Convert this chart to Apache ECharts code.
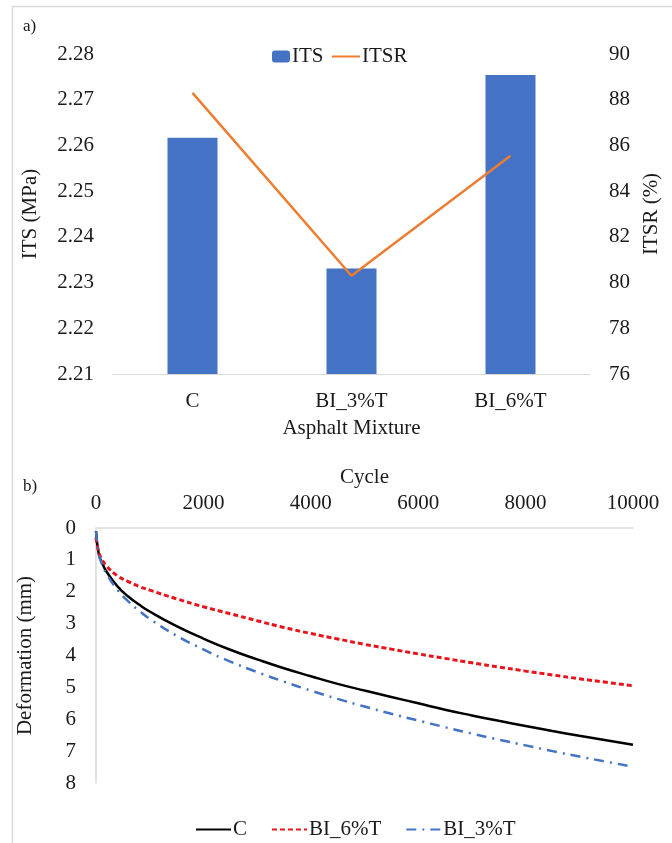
<!DOCTYPE html>
<html>
<head>
<meta charset="utf-8">
<title>ITS / ITSR and deformation</title>
<script src="https://cdn.jsdelivr.net/npm/echarts@6/dist/echarts.min.js"></script>
<style>
    html, body { margin: 0; padding: 0; background: #fff; }
    #chart { width: 672px; height: 843px; }
</style>
</head>
<body>
<div id="chart"></div>
<script>
// ============================================
// 数据
// ============================================

// a) 柱状 + 折线
const mixtures = ['C', 'BI_3%T', 'BI_6%T'];
const itsValues = [2.2617, 2.2331, 2.2754];   // MPa
const itsrValues = [88.3, 80.3, 85.55];       // %

// b) 变形曲线
const cycles = [0, 50, 100, 200, 400, 600, 800, 1000, 1500, 2000, 2500, 3000, 3500,
    4000, 4500, 5000, 5500, 6000, 6500, 7000, 7500, 8000, 8500, 9000, 9500, 10000];
const defC = [0.1, 0.8, 1.04, 1.38, 1.83, 2.15, 2.4, 2.62, 3.08, 3.47, 3.82, 4.12, 4.4,
    4.65, 4.89, 5.1, 5.3, 5.5, 5.7, 5.88, 6.05, 6.21, 6.37, 6.52, 6.66, 6.8];
const def6T = [0.3, 0.75, 0.95, 1.2, 1.5, 1.68, 1.83, 1.95, 2.22, 2.47, 2.69, 2.91, 3.12,
    3.31, 3.48, 3.65, 3.8, 3.95, 4.09, 4.23, 4.36, 4.49, 4.61, 4.73, 4.84, 4.95];
const def3T = [0.1, 0.81, 1.08, 1.45, 1.94, 2.3, 2.59, 2.85, 3.38, 3.81, 4.19, 4.52, 4.82,
    5.1, 5.36, 5.6, 5.83, 6.04, 6.25, 6.45, 6.64, 6.82, 7.0, 7.17, 7.33, 7.49];

// ============================================
// 样式常量
// ============================================
const FONT = '"Liberation Serif", "Times New Roman", serif';
const TEXT_COLOR = '#1a1a1a';
const AXIS_COLOR = '#d9d9d9';

const textStyle = { fontFamily: FONT, fontSize: 21, color: TEXT_COLOR };

function toPairs(xs, ys) {
    return xs.map((x, i) => [x, ys[i]]);
}

const chart = echarts.init(document.getElementById('chart'), null, { renderer: 'canvas' });

const option = {
    backgroundColor: '#fff',
    animation: false,
    textStyle: { fontFamily: FONT },
    graphic: [
        // 外框
        {
            type: 'rect',
            shape: { x: 12.5, y: 6.5, width: 700, height: 900 },
            style: { fill: 'none', stroke: AXIS_COLOR, lineWidth: 1.5 }
        },
        { type: 'text', left: 23, top: 18, style: { text: 'a)', font: '17px ' + FONT, fill: TEXT_COLOR } },
        { type: 'text', left: 23, top: 478, style: { text: 'b)', font: '17px ' + FONT, fill: TEXT_COLOR } }
    ],
    legend: [
        {
            data: ['ITS'],
            left: 267, top: 41,
            itemWidth: 18, itemHeight: 12, itemGap: 2,
            textStyle: Object.assign({ padding: [0, 0, 0, -3] }, textStyle)
        },
        {
            data: ['ITSR'],
            left: 326, top: 41,
            itemWidth: 28, itemHeight: 12,
            itemStyle: { opacity: 0 },
            textStyle: Object.assign({ padding: [0, 0, 0, -3] }, textStyle)
        },
        {
            data: ['C', 'BI_6%T', 'BI_3%T'],
            left: 190, top: 814,
            itemWidth: 35, itemHeight: 12, itemGap: 24,
            itemStyle: { opacity: 0 },
            textStyle: Object.assign({ padding: [0, 0, 0, -3] }, textStyle)
        }
    ],
    grid: [
        { left: 113, right: 82, top: 54, height: 320 },
        { left: 96, right: 39, top: 528, height: 255 }
    ],
    xAxis: [
        {
            type: 'category',
            gridIndex: 0,
            data: mixtures,
            name: 'Asphalt Mixture',
            nameLocation: 'middle',
            nameGap: 44,
            nameTextStyle: textStyle,
            axisLine: { lineStyle: { color: AXIS_COLOR, width: 1 } },
            axisTick: { show: false },
            axisLabel: Object.assign({ margin: 17 }, textStyle)
        },
        {
            type: 'value',
            gridIndex: 1,
            position: 'top',
            min: 0, max: 10000, interval: 2000,
            name: 'Cycle',
            nameLocation: 'middle',
            nameGap: 40,
            nameTextStyle: textStyle,
            axisLine: { show: true, lineStyle: { color: AXIS_COLOR, width: 1.5 } },
            axisTick: { show: false },
            splitLine: { show: false },
            axisLabel: Object.assign({ margin: 14, formatter: v => String(v) }, textStyle)
        }
    ],
    yAxis: [
        {
            type: 'value',
            gridIndex: 0,
            min: 2.21, max: 2.28, interval: 0.01,
            name: 'ITS (MPa)',
            nameLocation: 'middle',
            nameRotate: 90,
            nameGap: 72,
            nameTextStyle: textStyle,
            axisLine: { show: false },
            axisTick: { show: false },
            splitLine: { show: false },
            axisLabel: Object.assign({ margin: 19, formatter: v => v.toFixed(2) }, textStyle)
        },
        {
            type: 'value',
            gridIndex: 0,
            position: 'right',
            min: 76, max: 90, interval: 2,
            name: 'ITSR (%)',
            nameLocation: 'middle',
            nameRotate: 90,
            nameGap: 43,
            nameTextStyle: textStyle,
            axisLine: { show: false },
            axisTick: { show: false },
            splitLine: { show: false },
            axisLabel: Object.assign({ margin: 19 }, textStyle)
        },
        {
            type: 'value',
            gridIndex: 1,
            inverse: true,
            min: 0, max: 8, interval: 1,
            name: 'Deformation (mm)',
            nameLocation: 'middle',
            nameRotate: 90,
            nameGap: 60,
            nameTextStyle: textStyle,
            axisLine: { show: true, lineStyle: { color: AXIS_COLOR, width: 1.5 } },
            axisTick: { show: false },
            splitLine: { show: false },
            axisLabel: Object.assign({ margin: 20 }, textStyle)
        }
    ],
    series: [
        {
            name: 'ITS',
            type: 'bar',
            xAxisIndex: 0, yAxisIndex: 0,
            data: itsValues,
            barWidth: 50,
            itemStyle: { color: '#4472C4' }
        },
        {
            name: 'ITSR',
            type: 'line',
            xAxisIndex: 0, yAxisIndex: 1,
            data: itsrValues,
            symbol: 'none',
            lineStyle: { color: '#ED7D31', width: 2.5 },
            itemStyle: { color: '#ED7D31' }
        },
        {
            name: 'C',
            type: 'line',
            xAxisIndex: 1, yAxisIndex: 2,
            data: toPairs(cycles, defC),
            smooth: true,
            symbol: 'none',
            lineStyle: { color: '#000', width: 2.5 },
            itemStyle: { color: '#000' }
        },
        {
            name: 'BI_6%T',
            type: 'line',
            xAxisIndex: 1, yAxisIndex: 2,
            data: toPairs(cycles, def6T),
            smooth: true,
            symbol: 'none',
            lineStyle: { color: '#E8141B', width: 3, type: [5, 3] },
            itemStyle: { color: '#E8141B' }
        },
        {
            name: 'BI_3%T',
            type: 'line',
            xAxisIndex: 1, yAxisIndex: 2,
            data: toPairs(cycles, def3T),
            smooth: true,
            symbol: 'none',
            lineStyle: { color: '#4472C4', width: 2.5, type: [10, 6, 2, 6] },
            itemStyle: { color: '#4472C4' }
        }
    ]
};

chart.setOption(option);
</script>
</body>
</html>
